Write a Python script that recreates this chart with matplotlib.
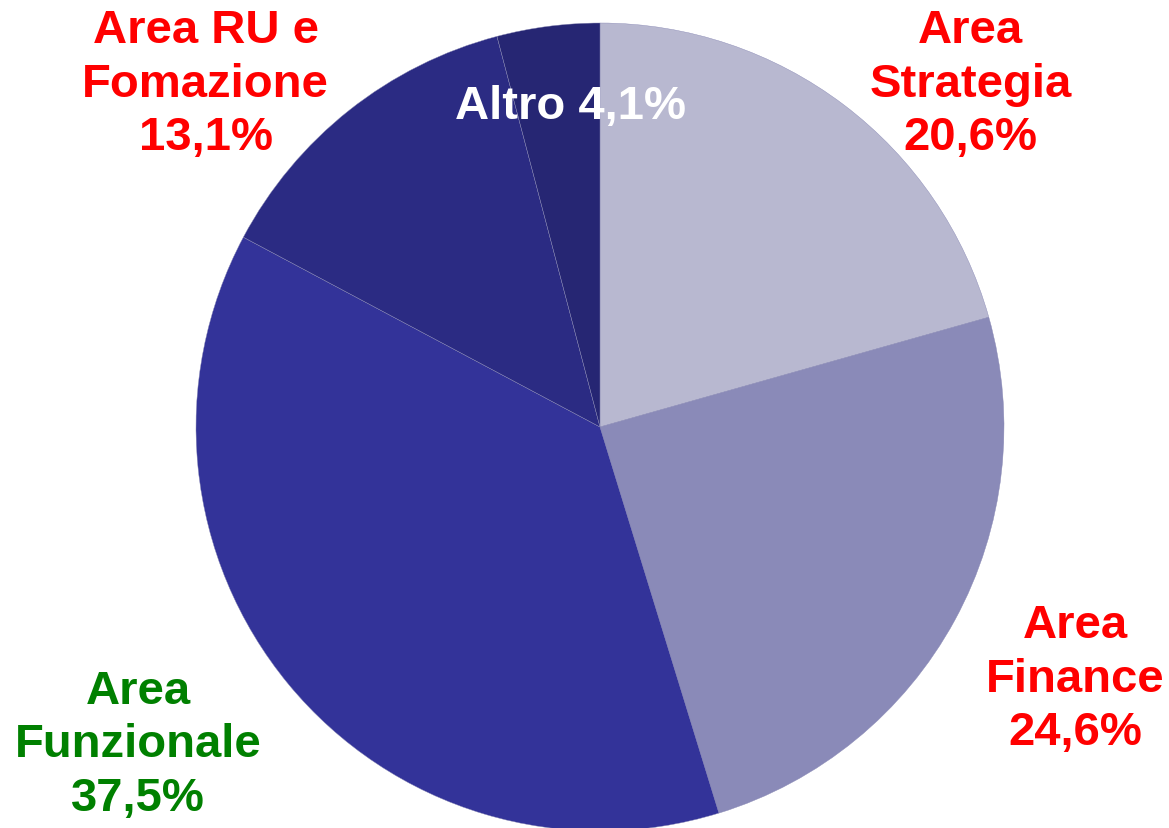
import matplotlib.pyplot as plt

plt.rcParams['font.family'] = ['Liberation Sans', 'DejaVu Sans']

# dati della torta (senso orario a partire dalle ore 12)
labels = ["Area\nStrategia", "Area\nFinance", "Area\nFunzionale", "Area RU e\nFomazione", "Altro"]
values = [20.6, 24.6, 37.5, 13.1, 4.1]
colors = ["#B8B8D0", "#8A8AB8", "#333399", "#2B2B83", "#262673"]
label_colors = ["#FF0000", "#FF0000", "#008000", "#FF0000", "#FFFFFF"]
# posizioni delle etichette (frazioni della figura)
label_pos = [(0.830, 0.898), (0.920, 0.180), (0.118, 0.101), (0.176, 0.898), (0.488, 0.871)]

fig = plt.figure(figsize=(11.69, 8.29), dpi=100)
ax = fig.add_axes([0, 0, 1, 1])
ax.pie(values, colors=colors, startangle=90, counterclock=False,
       radius=1, center=(0, 0),
       wedgeprops=dict(edgecolor="#8888B4", linewidth=0.3))

# 404 px per unita', centro in (600, 428) px
s = 404.0
ax.set_xlim(-600 / s, (1169 - 600) / s)
ax.set_ylim(-(829 - 428) / s, 428 / s)
ax.set_aspect("equal")
ax.axis("off")

for lab, v, c, (x, y) in zip(labels, values, label_colors, label_pos):
    pct = f"{v:.1f}%".replace(".", ",")
    if lab == "Altro":
        txt = f"{lab} {pct}"
    else:
        txt = f"{lab}\n{pct}"
    fig.text(x, y, txt, color=c, fontsize=34, fontweight="bold",
             ha="center", va="center", linespacing=1.28)

fig.savefig("out.png", dpi=100)
